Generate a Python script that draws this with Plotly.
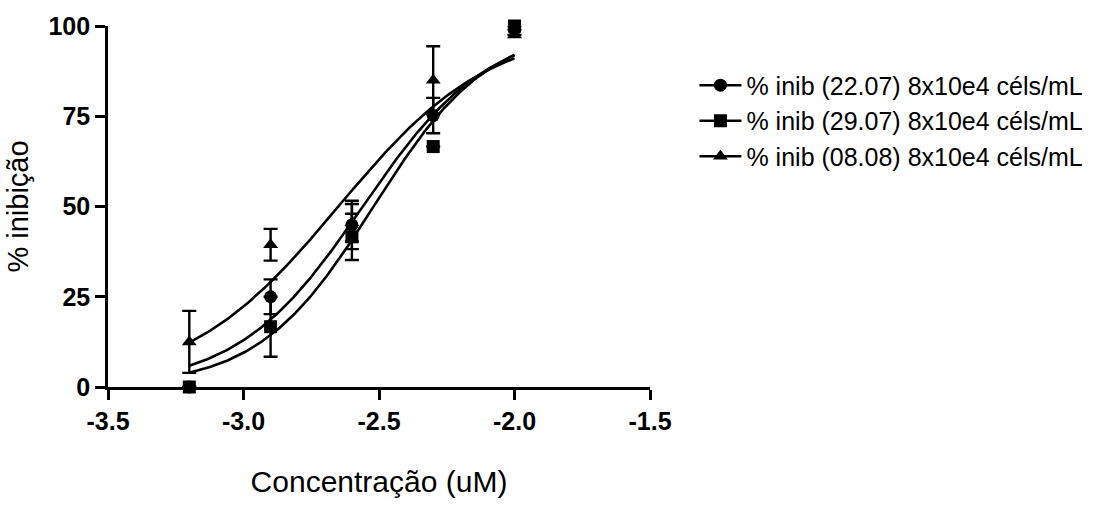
import numpy as np
import plotly.graph_objects as go

# log10 of concentration (uM)
log_conc = [-3.2, -2.9, -2.6, -2.3, -2.0]

# % inhibition per experiment, with error (SD)
inib_2207 = [0.0, 25.0, 44.9, 75.2, 99.0]
err_2207 = [0.0, 4.8, 6.7, 4.9, 0.0]

inib_2907 = [0.0, 16.7, 41.6, 66.6, 100.0]
err_2907 = [0.0, 8.3, 6.4, 0.0, 0.0]

inib_0808 = [12.5, 39.4, 45.5, 85.0, 97.5]
err_0808 = [8.6, 4.4, 5.2, 9.4, 0.0]

# Fitted dose-response parameters (logIC50, Hill slope), bottom 0 / top 100
fit_2207 = (-2.56, 1.88)
fit_2907 = (-2.52, 2.04)
fit_0808 = (-2.65, 1.55)

names = [
    "% inib (22.07) 8x10e4 céls/mL",
    "% inib (29.07) 8x10e4 céls/mL",
    "% inib (08.08) 8x10e4 céls/mL",
]
symbols = ["circle", "square", "triangle-up"]

series = [
    (inib_2207, err_2207, fit_2207),
    (inib_2907, err_2907, fit_2907),
    (inib_0808, err_0808, fit_0808),
]

FONT = "Liberation Sans, Arial, sans-serif"
BLACK = "#000000"

fig = go.Figure()

x_fit = np.linspace(min(log_conc), max(log_conc), 200)

for i, (vals, errs, (log_ic50, hill)) in enumerate(series):
    y_fit = 100.0 / (1.0 + 10 ** ((log_ic50 - x_fit) * hill))
    fig.add_trace(go.Scatter(
        x=x_fit, y=y_fit, mode="lines",
        line=dict(color=BLACK, width=2.6),
        showlegend=False, hoverinfo="skip", cliponaxis=False,
    ))
    fig.add_trace(go.Scatter(
        x=log_conc, y=vals, mode="markers",
        marker=dict(symbol=symbols[i], size=13, color=BLACK),
        error_y=dict(type="data", array=errs, visible=True,
                     color=BLACK, thickness=2.4, width=7),
        showlegend=False, cliponaxis=False,
    ))
    # legend entry: line with marker
    fig.add_trace(go.Scatter(
        x=[None], y=[None], mode="lines+markers", name=names[i],
        line=dict(color=BLACK, width=2.6),
        marker=dict(symbol=symbols[i], size=13, color=BLACK),
    ))

fig.update_layout(
    width=1096, height=507,
    margin=dict(l=108, r=446, t=26, b=120, autoexpand=False),
    paper_bgcolor="white", plot_bgcolor="white",
    font=dict(family=FONT, color=BLACK),
    showlegend=True,
    legend=dict(
        x=1.082, y=0.899, xanchor="left", yanchor="top",
        font=dict(family=FONT, size=25, color=BLACK),
        itemwidth=42,
        bgcolor="rgba(0,0,0,0)",
    ),
    xaxis=dict(
        range=[-3.5, -1.5], tickvals=[-3.5, -3.0, -2.5, -2.0, -1.5],
        ticktext=["-3.5", "-3.0", "-2.5", "-2.0", "-1.5"],
        showgrid=False, zeroline=False,
        showline=True, linecolor=BLACK, linewidth=2.6,
        ticks="outside", ticklen=10, tickwidth=2.6, tickcolor=BLACK,
        tickfont=dict(family=FONT, size=25, color=BLACK, weight="bold"),
        title=dict(text="Concentração (uM)", standoff=38,
                   font=dict(family=FONT, size=30, color=BLACK)),
    ),
    yaxis=dict(
        range=[0, 100], tickvals=[0, 25, 50, 75, 100],
        showgrid=False, zeroline=False,
        showline=True, linecolor=BLACK, linewidth=2.6,
        ticks="outside", ticklen=10, tickwidth=2.6, tickcolor=BLACK,
        tickfont=dict(family=FONT, size=25, color=BLACK, weight="bold"),
        title=dict(text="% inibição", standoff=12,
                   font=dict(family=FONT, size=29, color=BLACK)),
    ),
)

fig.write_html("out.html")
